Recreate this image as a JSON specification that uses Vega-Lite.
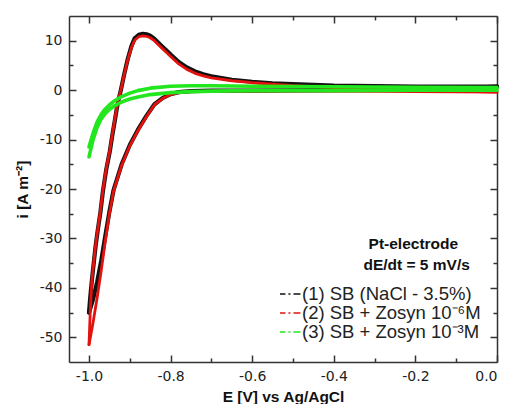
{
  "$schema": "https://vega.github.io/schema/vega-lite/v6.json",
  "width": 428,
  "height": 346,
  "autosize": "none",
  "padding": {"left": 69, "top": 16, "right": 13, "bottom": 42},
  "background": "white",
  "config": {
    "view": {"stroke": null},
    "axis": {
      "domainColor": "#333",
      "domainWidth": 1.5,
      "tickColor": "#333",
      "tickWidth": 1.5,
      "grid": false,
      "labelFont": "DejaVu Sans",
      "labelFontSize": 14,
      "labelColor": "#222",
      "labelOverlap": false,
      "titleFont": "Liberation Sans",
      "titleFontWeight": "bold",
      "titleFontSize": 15.5,
      "titleColor": "#111"
    },
    "legend": {
      "symbolStrokeWidth": 1.3
    }
  },
  "datasets": {
    "cv": [
      {"s": "(1) SB (NaCl - 3.5%)", "b": "1f", "E": -1.0, "i": -45},
      {"s": "(1) SB (NaCl - 3.5%)", "b": "1f", "E": -0.997, "i": -42},
      {"s": "(1) SB (NaCl - 3.5%)", "b": "1f", "E": -0.993, "i": -38.5},
      {"s": "(1) SB (NaCl - 3.5%)", "b": "1f", "E": -0.988, "i": -34.7},
      {"s": "(1) SB (NaCl - 3.5%)", "b": "1f", "E": -0.984, "i": -31.7},
      {"s": "(1) SB (NaCl - 3.5%)", "b": "1f", "E": -0.979, "i": -28.6},
      {"s": "(1) SB (NaCl - 3.5%)", "b": "1f", "E": -0.972, "i": -24.7},
      {"s": "(1) SB (NaCl - 3.5%)", "b": "1f", "E": -0.966, "i": -20.5},
      {"s": "(1) SB (NaCl - 3.5%)", "b": "1f", "E": -0.958, "i": -16.2},
      {"s": "(1) SB (NaCl - 3.5%)", "b": "1f", "E": -0.949, "i": -12.4},
      {"s": "(1) SB (NaCl - 3.5%)", "b": "1f", "E": -0.942, "i": -8.7},
      {"s": "(1) SB (NaCl - 3.5%)", "b": "1f", "E": -0.937, "i": -6.3},
      {"s": "(1) SB (NaCl - 3.5%)", "b": "1f", "E": -0.932, "i": -3.8},
      {"s": "(1) SB (NaCl - 3.5%)", "b": "1f", "E": -0.928, "i": -2.1},
      {"s": "(1) SB (NaCl - 3.5%)", "b": "1f", "E": -0.922, "i": 0},
      {"s": "(1) SB (NaCl - 3.5%)", "b": "1f", "E": -0.914, "i": 3.1},
      {"s": "(1) SB (NaCl - 3.5%)", "b": "1f", "E": -0.905, "i": 6.3},
      {"s": "(1) SB (NaCl - 3.5%)", "b": "1f", "E": -0.896, "i": 8.9},
      {"s": "(1) SB (NaCl - 3.5%)", "b": "1f", "E": -0.888, "i": 10.5},
      {"s": "(1) SB (NaCl - 3.5%)", "b": "1f", "E": -0.878, "i": 11.2},
      {"s": "(1) SB (NaCl - 3.5%)", "b": "1f", "E": -0.868, "i": 11.4},
      {"s": "(1) SB (NaCl - 3.5%)", "b": "1f", "E": -0.859, "i": 11.3},
      {"s": "(1) SB (NaCl - 3.5%)", "b": "1f", "E": -0.85, "i": 11.0},
      {"s": "(1) SB (NaCl - 3.5%)", "b": "1f", "E": -0.84, "i": 10.4},
      {"s": "(1) SB (NaCl - 3.5%)", "b": "1f", "E": -0.83, "i": 9.6},
      {"s": "(1) SB (NaCl - 3.5%)", "b": "1f", "E": -0.82, "i": 8.8},
      {"s": "(1) SB (NaCl - 3.5%)", "b": "1f", "E": -0.81, "i": 8.0},
      {"s": "(1) SB (NaCl - 3.5%)", "b": "1f", "E": -0.8, "i": 7.2},
      {"s": "(1) SB (NaCl - 3.5%)", "b": "1f", "E": -0.78, "i": 5.7},
      {"s": "(1) SB (NaCl - 3.5%)", "b": "1f", "E": -0.76, "i": 4.6},
      {"s": "(1) SB (NaCl - 3.5%)", "b": "1f", "E": -0.74, "i": 3.8},
      {"s": "(1) SB (NaCl - 3.5%)", "b": "1f", "E": -0.72, "i": 3.2},
      {"s": "(1) SB (NaCl - 3.5%)", "b": "1f", "E": -0.7, "i": 2.8},
      {"s": "(1) SB (NaCl - 3.5%)", "b": "1f", "E": -0.65, "i": 2.1},
      {"s": "(1) SB (NaCl - 3.5%)", "b": "1f", "E": -0.6, "i": 1.7},
      {"s": "(1) SB (NaCl - 3.5%)", "b": "1f", "E": -0.55, "i": 1.4},
      {"s": "(1) SB (NaCl - 3.5%)", "b": "1f", "E": -0.5, "i": 1.2},
      {"s": "(1) SB (NaCl - 3.5%)", "b": "1f", "E": -0.4, "i": 0.9},
      {"s": "(1) SB (NaCl - 3.5%)", "b": "1f", "E": -0.3, "i": 0.8},
      {"s": "(1) SB (NaCl - 3.5%)", "b": "1f", "E": -0.2, "i": 0.7},
      {"s": "(1) SB (NaCl - 3.5%)", "b": "1f", "E": -0.1, "i": 0.7},
      {"s": "(1) SB (NaCl - 3.5%)", "b": "1f", "E": 0.0, "i": 0.7},
      {"s": "(1) SB (NaCl - 3.5%)", "b": "1r", "E": 0.0, "i": 0.7},
      {"s": "(1) SB (NaCl - 3.5%)", "b": "1r", "E": -0.1, "i": 0.3},
      {"s": "(1) SB (NaCl - 3.5%)", "b": "1r", "E": -0.2, "i": 0.1},
      {"s": "(1) SB (NaCl - 3.5%)", "b": "1r", "E": -0.4, "i": 0.0},
      {"s": "(1) SB (NaCl - 3.5%)", "b": "1r", "E": -0.6, "i": -0.1},
      {"s": "(1) SB (NaCl - 3.5%)", "b": "1r", "E": -0.7, "i": -0.1},
      {"s": "(1) SB (NaCl - 3.5%)", "b": "1r", "E": -0.75, "i": -0.2},
      {"s": "(1) SB (NaCl - 3.5%)", "b": "1r", "E": -0.78, "i": -0.4},
      {"s": "(1) SB (NaCl - 3.5%)", "b": "1r", "E": -0.8, "i": -0.8},
      {"s": "(1) SB (NaCl - 3.5%)", "b": "1r", "E": -0.82, "i": -1.6},
      {"s": "(1) SB (NaCl - 3.5%)", "b": "1r", "E": -0.84, "i": -2.9},
      {"s": "(1) SB (NaCl - 3.5%)", "b": "1r", "E": -0.86, "i": -5.3},
      {"s": "(1) SB (NaCl - 3.5%)", "b": "1r", "E": -0.88, "i": -8.0},
      {"s": "(1) SB (NaCl - 3.5%)", "b": "1r", "E": -0.9, "i": -11.1},
      {"s": "(1) SB (NaCl - 3.5%)", "b": "1r", "E": -0.92, "i": -15},
      {"s": "(1) SB (NaCl - 3.5%)", "b": "1r", "E": -0.94, "i": -20.3},
      {"s": "(1) SB (NaCl - 3.5%)", "b": "1r", "E": -0.95, "i": -24.6},
      {"s": "(1) SB (NaCl - 3.5%)", "b": "1r", "E": -0.96, "i": -29.5},
      {"s": "(1) SB (NaCl - 3.5%)", "b": "1r", "E": -0.97, "i": -34.5},
      {"s": "(1) SB (NaCl - 3.5%)", "b": "1r", "E": -0.98, "i": -38.8},
      {"s": "(1) SB (NaCl - 3.5%)", "b": "1r", "E": -0.99, "i": -42.3},
      {"s": "(1) SB (NaCl - 3.5%)", "b": "1r", "E": -1.0, "i": -45},

      {"s": "(2) SB + Zosyn 10⁻⁶M", "b": "2f", "E": -1.0, "i": -51.5},
      {"s": "(2) SB + Zosyn 10⁻⁶M", "b": "2f", "E": -0.997, "i": -45},
      {"s": "(2) SB + Zosyn 10⁻⁶M", "b": "2f", "E": -0.993, "i": -38.5},
      {"s": "(2) SB + Zosyn 10⁻⁶M", "b": "2f", "E": -0.988, "i": -34.5},
      {"s": "(2) SB + Zosyn 10⁻⁶M", "b": "2f", "E": -0.984, "i": -31.5},
      {"s": "(2) SB + Zosyn 10⁻⁶M", "b": "2f", "E": -0.979, "i": -28.4},
      {"s": "(2) SB + Zosyn 10⁻⁶M", "b": "2f", "E": -0.972, "i": -24.5},
      {"s": "(2) SB + Zosyn 10⁻⁶M", "b": "2f", "E": -0.966, "i": -20.3},
      {"s": "(2) SB + Zosyn 10⁻⁶M", "b": "2f", "E": -0.958, "i": -16},
      {"s": "(2) SB + Zosyn 10⁻⁶M", "b": "2f", "E": -0.949, "i": -12.2},
      {"s": "(2) SB + Zosyn 10⁻⁶M", "b": "2f", "E": -0.942, "i": -8.5},
      {"s": "(2) SB + Zosyn 10⁻⁶M", "b": "2f", "E": -0.937, "i": -6.1},
      {"s": "(2) SB + Zosyn 10⁻⁶M", "b": "2f", "E": -0.932, "i": -3.6},
      {"s": "(2) SB + Zosyn 10⁻⁶M", "b": "2f", "E": -0.928, "i": -2},
      {"s": "(2) SB + Zosyn 10⁻⁶M", "b": "2f", "E": -0.922, "i": 0},
      {"s": "(2) SB + Zosyn 10⁻⁶M", "b": "2f", "E": -0.914, "i": 3},
      {"s": "(2) SB + Zosyn 10⁻⁶M", "b": "2f", "E": -0.905, "i": 6.1},
      {"s": "(2) SB + Zosyn 10⁻⁶M", "b": "2f", "E": -0.896, "i": 8.6},
      {"s": "(2) SB + Zosyn 10⁻⁶M", "b": "2f", "E": -0.888, "i": 10.1},
      {"s": "(2) SB + Zosyn 10⁻⁶M", "b": "2f", "E": -0.878, "i": 10.8},
      {"s": "(2) SB + Zosyn 10⁻⁶M", "b": "2f", "E": -0.868, "i": 11.0},
      {"s": "(2) SB + Zosyn 10⁻⁶M", "b": "2f", "E": -0.859, "i": 10.9},
      {"s": "(2) SB + Zosyn 10⁻⁶M", "b": "2f", "E": -0.85, "i": 10.6},
      {"s": "(2) SB + Zosyn 10⁻⁶M", "b": "2f", "E": -0.84, "i": 10.0},
      {"s": "(2) SB + Zosyn 10⁻⁶M", "b": "2f", "E": -0.83, "i": 9.2},
      {"s": "(2) SB + Zosyn 10⁻⁶M", "b": "2f", "E": -0.82, "i": 8.4},
      {"s": "(2) SB + Zosyn 10⁻⁶M", "b": "2f", "E": -0.81, "i": 7.6},
      {"s": "(2) SB + Zosyn 10⁻⁶M", "b": "2f", "E": -0.8, "i": 6.8},
      {"s": "(2) SB + Zosyn 10⁻⁶M", "b": "2f", "E": -0.78, "i": 5.3},
      {"s": "(2) SB + Zosyn 10⁻⁶M", "b": "2f", "E": -0.76, "i": 4.2},
      {"s": "(2) SB + Zosyn 10⁻⁶M", "b": "2f", "E": -0.74, "i": 3.4},
      {"s": "(2) SB + Zosyn 10⁻⁶M", "b": "2f", "E": -0.72, "i": 2.9},
      {"s": "(2) SB + Zosyn 10⁻⁶M", "b": "2f", "E": -0.7, "i": 2.5},
      {"s": "(2) SB + Zosyn 10⁻⁶M", "b": "2f", "E": -0.65, "i": 1.9},
      {"s": "(2) SB + Zosyn 10⁻⁶M", "b": "2f", "E": -0.6, "i": 1.5},
      {"s": "(2) SB + Zosyn 10⁻⁶M", "b": "2f", "E": -0.55, "i": 1.2},
      {"s": "(2) SB + Zosyn 10⁻⁶M", "b": "2f", "E": -0.5, "i": 0.9},
      {"s": "(2) SB + Zosyn 10⁻⁶M", "b": "2f", "E": -0.4, "i": 0.5},
      {"s": "(2) SB + Zosyn 10⁻⁶M", "b": "2f", "E": -0.3, "i": 0.2},
      {"s": "(2) SB + Zosyn 10⁻⁶M", "b": "2f", "E": -0.2, "i": 0.0},
      {"s": "(2) SB + Zosyn 10⁻⁶M", "b": "2f", "E": -0.1, "i": -0.2},
      {"s": "(2) SB + Zosyn 10⁻⁶M", "b": "2f", "E": 0.0, "i": -0.4},
      {"s": "(2) SB + Zosyn 10⁻⁶M", "b": "2r", "E": 0.0, "i": -0.4},
      {"s": "(2) SB + Zosyn 10⁻⁶M", "b": "2r", "E": -0.2, "i": -0.3},
      {"s": "(2) SB + Zosyn 10⁻⁶M", "b": "2r", "E": -0.4, "i": -0.2},
      {"s": "(2) SB + Zosyn 10⁻⁶M", "b": "2r", "E": -0.6, "i": -0.2},
      {"s": "(2) SB + Zosyn 10⁻⁶M", "b": "2r", "E": -0.7, "i": -0.2},
      {"s": "(2) SB + Zosyn 10⁻⁶M", "b": "2r", "E": -0.75, "i": -0.3},
      {"s": "(2) SB + Zosyn 10⁻⁶M", "b": "2r", "E": -0.78, "i": -0.5},
      {"s": "(2) SB + Zosyn 10⁻⁶M", "b": "2r", "E": -0.8, "i": -0.9},
      {"s": "(2) SB + Zosyn 10⁻⁶M", "b": "2r", "E": -0.82, "i": -1.7},
      {"s": "(2) SB + Zosyn 10⁻⁶M", "b": "2r", "E": -0.84, "i": -3.0},
      {"s": "(2) SB + Zosyn 10⁻⁶M", "b": "2r", "E": -0.86, "i": -5.5},
      {"s": "(2) SB + Zosyn 10⁻⁶M", "b": "2r", "E": -0.88, "i": -8.2},
      {"s": "(2) SB + Zosyn 10⁻⁶M", "b": "2r", "E": -0.9, "i": -11.3},
      {"s": "(2) SB + Zosyn 10⁻⁶M", "b": "2r", "E": -0.92, "i": -15.2},
      {"s": "(2) SB + Zosyn 10⁻⁶M", "b": "2r", "E": -0.94, "i": -20.5},
      {"s": "(2) SB + Zosyn 10⁻⁶M", "b": "2r", "E": -0.95, "i": -25},
      {"s": "(2) SB + Zosyn 10⁻⁶M", "b": "2r", "E": -0.96, "i": -30.5},
      {"s": "(2) SB + Zosyn 10⁻⁶M", "b": "2r", "E": -0.97, "i": -36.5},
      {"s": "(2) SB + Zosyn 10⁻⁶M", "b": "2r", "E": -0.98, "i": -42},
      {"s": "(2) SB + Zosyn 10⁻⁶M", "b": "2r", "E": -0.99, "i": -47},
      {"s": "(2) SB + Zosyn 10⁻⁶M", "b": "2r", "E": -1.0, "i": -51.5},

      {"s": "(3) SB + Zosyn 10⁻³M", "b": "3f", "E": -1.0, "i": -11.5},
      {"s": "(3) SB + Zosyn 10⁻³M", "b": "3f", "E": -0.99, "i": -8.7},
      {"s": "(3) SB + Zosyn 10⁻³M", "b": "3f", "E": -0.98, "i": -6.4},
      {"s": "(3) SB + Zosyn 10⁻³M", "b": "3f", "E": -0.97, "i": -4.9},
      {"s": "(3) SB + Zosyn 10⁻³M", "b": "3f", "E": -0.96, "i": -3.8},
      {"s": "(3) SB + Zosyn 10⁻³M", "b": "3f", "E": -0.95, "i": -3.0},
      {"s": "(3) SB + Zosyn 10⁻³M", "b": "3f", "E": -0.94, "i": -2.3},
      {"s": "(3) SB + Zosyn 10⁻³M", "b": "3f", "E": -0.92, "i": -1.3},
      {"s": "(3) SB + Zosyn 10⁻³M", "b": "3f", "E": -0.9, "i": -0.6},
      {"s": "(3) SB + Zosyn 10⁻³M", "b": "3f", "E": -0.88, "i": -0.1},
      {"s": "(3) SB + Zosyn 10⁻³M", "b": "3f", "E": -0.85, "i": 0.4},
      {"s": "(3) SB + Zosyn 10⁻³M", "b": "3f", "E": -0.8, "i": 0.8},
      {"s": "(3) SB + Zosyn 10⁻³M", "b": "3f", "E": -0.75, "i": 0.9},
      {"s": "(3) SB + Zosyn 10⁻³M", "b": "3f", "E": -0.7, "i": 0.9},
      {"s": "(3) SB + Zosyn 10⁻³M", "b": "3f", "E": -0.6, "i": 0.8},
      {"s": "(3) SB + Zosyn 10⁻³M", "b": "3f", "E": -0.4, "i": 0.7},
      {"s": "(3) SB + Zosyn 10⁻³M", "b": "3f", "E": -0.2, "i": 0.6},
      {"s": "(3) SB + Zosyn 10⁻³M", "b": "3f", "E": 0.0, "i": 0.5},
      {"s": "(3) SB + Zosyn 10⁻³M", "b": "3r", "E": 0.0, "i": 0.0},
      {"s": "(3) SB + Zosyn 10⁻³M", "b": "3r", "E": -0.2, "i": 0.0},
      {"s": "(3) SB + Zosyn 10⁻³M", "b": "3r", "E": -0.4, "i": -0.1},
      {"s": "(3) SB + Zosyn 10⁻³M", "b": "3r", "E": -0.6, "i": -0.1},
      {"s": "(3) SB + Zosyn 10⁻³M", "b": "3r", "E": -0.7, "i": -0.2},
      {"s": "(3) SB + Zosyn 10⁻³M", "b": "3r", "E": -0.75, "i": -0.3},
      {"s": "(3) SB + Zosyn 10⁻³M", "b": "3r", "E": -0.8, "i": -0.5},
      {"s": "(3) SB + Zosyn 10⁻³M", "b": "3r", "E": -0.85, "i": -0.9},
      {"s": "(3) SB + Zosyn 10⁻³M", "b": "3r", "E": -0.88, "i": -1.4},
      {"s": "(3) SB + Zosyn 10⁻³M", "b": "3r", "E": -0.9, "i": -1.8},
      {"s": "(3) SB + Zosyn 10⁻³M", "b": "3r", "E": -0.92, "i": -2.4},
      {"s": "(3) SB + Zosyn 10⁻³M", "b": "3r", "E": -0.94, "i": -3.3},
      {"s": "(3) SB + Zosyn 10⁻³M", "b": "3r", "E": -0.95, "i": -3.9},
      {"s": "(3) SB + Zosyn 10⁻³M", "b": "3r", "E": -0.96, "i": -4.7},
      {"s": "(3) SB + Zosyn 10⁻³M", "b": "3r", "E": -0.97, "i": -5.8},
      {"s": "(3) SB + Zosyn 10⁻³M", "b": "3r", "E": -0.98, "i": -7.5},
      {"s": "(3) SB + Zosyn 10⁻³M", "b": "3r", "E": -0.99, "i": -10},
      {"s": "(3) SB + Zosyn 10⁻³M", "b": "3r", "E": -1.0, "i": -13.5}
    ],
    "notes": [
      {"E": -0.205, "i": -31.2, "txt": "Pt-electrode"},
      {"E": -0.197, "i": -35.3, "txt": "dE/dt = 5 mV/s"}
    ]
  },
  "resolve": {"axis": {"x": "independent", "y": "independent"}},
  "layer": [
    {
      "data": {"name": "cv"},
      "transform": [{"filter": "datum.s === '(1) SB (NaCl - 3.5%)'"}],
      "mark": {"type": "line", "strokeWidth": 4.2, "strokeCap": "round", "strokeJoin": "round"},
      "encoding": {
        "x": {
          "field": "E", "type": "quantitative",
          "scale": {"domain": [-1.049, 0], "nice": false, "zero": false},
          "axis": {
            "orient": "bottom",
            "values": [-1.0, -0.8, -0.6, -0.4, -0.2, 0.0],
            "tickSize": -7,
            "labelExpr": "replace(format(datum.value,'.1f'),'−','-')",
            "labelFlush": true,
            "labelPadding": 14,
            "title": "E [V] vs Ag/AgCl",
            "titlePadding": 6
          }
        },
        "y": {
          "field": "i", "type": "quantitative",
          "scale": {"domain": [-55, 15], "nice": false, "zero": false},
          "axis": {
            "orient": "left",
            "values": [-50, -40, -30, -20, -10, 0, 10],
            "tickSize": -7,
            "labelExpr": "replace(format(datum.value,'d'),'−','-')",
            "labelPadding": 14,
            "title": "i [A m⁻²]",
            "titlePadding": 9
          }
        },
        "color": {
          "field": "s", "type": "nominal",
          "scale": {
            "domain": ["(1) SB (NaCl - 3.5%)", "(2) SB + Zosyn 10⁻⁶M", "(3) SB + Zosyn 10⁻³M"],
            "range": ["#111111", "#e3120f", "#22e61e"]
          },
          "legend": {
            "title": null,
            "orient": "none",
            "legendX": 211,
            "legendY": 269,
            "padding": 0,
            "symbolType": "M-1.3,0H1.3",
            "symbolSize": 289,
            "symbolStrokeWidth": 1.3,
            "symbolDash": [7, 3, 2, 3],
            "labelFont": "Liberation Sans",
            "labelFontSize": 18.5,
            "labelColor": "#222",
            "labelOffset": 3,
            "rowPadding": 0,
            "clipHeight": 18,
            "labelLimit": 400
          }
        },
        "detail": {"field": "b"}
      }
    },
    {
      "data": {"name": "cv"},
      "transform": [{"filter": "datum.s === '(2) SB + Zosyn 10⁻⁶M'"}],
      "mark": {"type": "line", "strokeWidth": 2.8, "strokeCap": "round", "strokeJoin": "round"},
      "encoding": {
        "x": {"field": "E", "type": "quantitative", "axis": null},
        "y": {"field": "i", "type": "quantitative", "axis": null},
        "color": {"field": "s", "type": "nominal"},
        "detail": {"field": "b"}
      }
    },
    {
      "data": {"name": "cv"},
      "transform": [{"filter": "datum.s === '(3) SB + Zosyn 10⁻³M'"}],
      "mark": {"type": "line", "strokeWidth": 3.6, "strokeCap": "round", "strokeJoin": "round"},
      "encoding": {
        "x": {"field": "E", "type": "quantitative", "axis": null},
        "y": {"field": "i", "type": "quantitative", "axis": null},
        "color": {"field": "s", "type": "nominal"},
        "detail": {"field": "b"}
      }
    },
    {
      "data": {"name": "notes"},
      "mark": {"type": "text", "font": "Liberation Sans", "fontWeight": "bold", "fontSize": 15.5, "color": "#111", "align": "center", "baseline": "middle"},
      "encoding": {
        "x": {
          "field": "E", "type": "quantitative",
          "axis": {
            "orient": "top",
            "values": [-1.0, -0.8, -0.6, -0.4, -0.2, 0.0],
            "tickSize": -7,
            "labels": false,
            "title": null
          }
        },
        "y": {
          "field": "i", "type": "quantitative",
          "axis": {
            "orient": "right",
            "values": [-50, -40, -30, -20, -10, 0, 10],
            "tickSize": -7,
            "labels": false,
            "title": null
          }
        },
        "text": {"field": "txt"}
      }
    },
    {
      "data": {"name": "notes"},
      "mark": {"type": "point", "opacity": 0},
      "encoding": {
        "x": {
          "field": "E", "type": "quantitative",
          "axis": {
            "orient": "bottom",
            "values": [-0.9, -0.7, -0.5, -0.3, -0.1],
            "tickSize": -4,
            "labels": false,
            "domain": false,
            "title": null
          }
        },
        "y": {
          "field": "i", "type": "quantitative",
          "axis": {
            "orient": "left",
            "values": [-45, -35, -25, -15, -5, 5],
            "tickSize": -4,
            "labels": false,
            "domain": false,
            "title": null
          }
        }
      }
    },
    {
      "data": {"name": "notes"},
      "mark": {"type": "point", "opacity": 0},
      "encoding": {
        "x": {
          "field": "E", "type": "quantitative",
          "axis": {
            "orient": "top",
            "values": [-0.9, -0.7, -0.5, -0.3, -0.1],
            "tickSize": -4,
            "labels": false,
            "domain": false,
            "title": null
          }
        },
        "y": {
          "field": "i", "type": "quantitative",
          "axis": {
            "orient": "right",
            "values": [-45, -35, -25, -15, -5, 5],
            "tickSize": -4,
            "labels": false,
            "domain": false,
            "title": null
          }
        }
      }
    }
  ]
}
